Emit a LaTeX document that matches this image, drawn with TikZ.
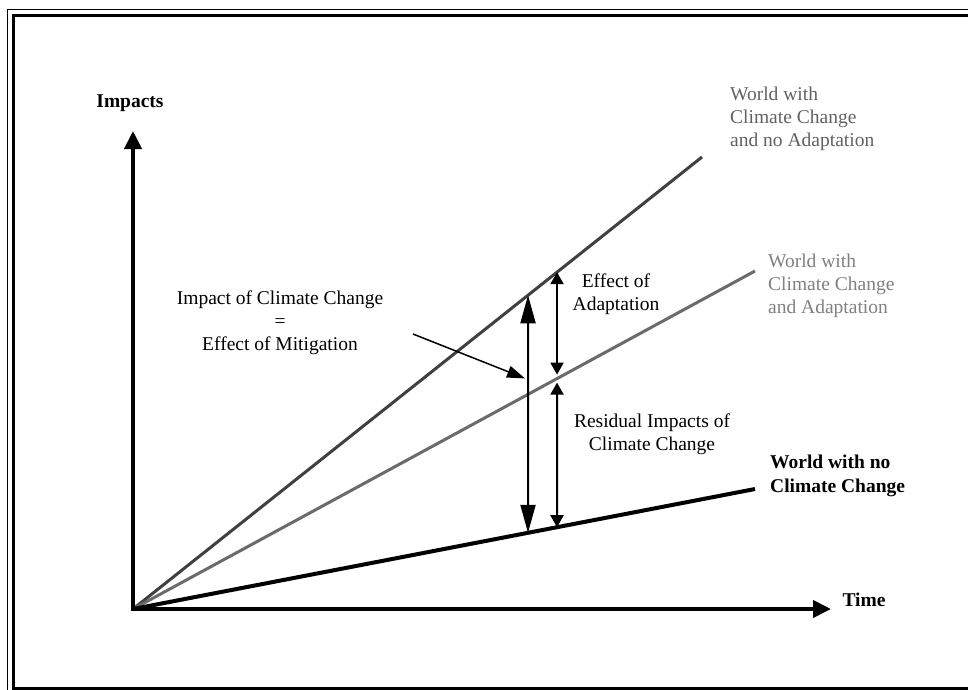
\documentclass[tikz,border=0pt]{standalone}
\usepackage{fontspec}
\setmainfont{Liberation Serif}
\usetikzlibrary{arrows.meta,calc}
\begin{document}
\begin{tikzpicture}[x={(1pt,0)},y={(0,-1pt)},
  lbl/.style={font=\fontsize{19.5}{23}\selectfont, align=center, inner sep=0pt},
  lblL/.style={font=\fontsize{19.5}{23}\selectfont, align=left, inner sep=0pt, anchor=west},
  axis/.style={line width=4pt, -{Triangle[length=18pt,width=17pt]}},
  bigdbl/.style={line width=2pt, {Triangle[length=28pt,width=15pt]}-{Triangle[length=28pt,width=15pt]}},
  smalldbl/.style={line width=2pt, {Triangle[length=12pt,width=13pt]}-{Triangle[length=12pt,width=13pt]}},
  pointer/.style={line width=1.5pt, -{Triangle[length=18pt,width=12pt]}}]
\clip (0,0) rectangle (968,689);
\fill[white] (0,0) rectangle (968,689);
% frame
\draw[line width=1.5pt] (7.5,9.5) rectangle (995,715);
\draw[line width=3pt] (13,15) rectangle (985,688);
% coordinates
\coordinate (O) at (133,609);
\coordinate (T) at (702,157);
\coordinate (M) at (755,271);
\coordinate (B) at (755,489);
\coordinate (ytip) at (133,131);
\coordinate (xtip) at (831,609);
% lines
\draw[line width=3pt, color=black!75] (O) -- (T);
\draw[line width=3pt, color=black!58] (O) -- (M);
\draw[line width=4pt, color=black] (O) -- (B);
% axes
\draw[axis] ($(O)+(0,2)$) -- (ytip);
\draw[axis] ($(O)+(-2,0)$) -- (xtip);
% intersections
\coordinate (L1) at (intersection of O--T and 528,0--528,700);
\coordinate (L2) at (intersection of O--B and 528,0--528,700);
\coordinate (R1) at (intersection of O--T and 557,0--557,700);
\coordinate (R2) at (intersection of O--M and 557,0--557,700);
\coordinate (R3) at (intersection of O--B and 557,0--557,700);
\draw[bigdbl] (L1) -- (L2);
\draw[smalldbl, shorten >=4pt] (R1) -- (R2);
\draw[smalldbl, shorten <=4pt] (R2) -- (R3);
% labels
\node[lbl, font=\fontsize{19.5}{23}\selectfont\bfseries] (imp) at (130,103.5) {Impacts};
\node[lbl, font=\fontsize{19.5}{23}\selectfont\bfseries] (time) at (864,600) {Time};
\node[lbl] (mit) at (280,323) {Impact of Climate Change\\=\\Effect of Mitigation};
\node[lbl] (adp) at (616,294) {Effect of\\Adaptation};
\node[lbl] (res) at (652,434) {Residual Impacts of\\Climate Change};
\node[lblL, text=black!62] (top) at (730,118.5) {World with\\Climate Change\\and no Adaptation};
\node[lblL, text=black!50] (mid) at (768,286) {World with\\Climate Change\\and Adaptation};
\node[lblL, font=\fontsize{19.5}{24}\selectfont\bfseries] (bot) at (770,476) {World with no\\Climate Change};
\coordinate (pstart) at (413,334);
\draw[pointer] (pstart) -- ($(L1)!0.35!(L2)+(-3,0)$);
\end{tikzpicture}
\end{document}
